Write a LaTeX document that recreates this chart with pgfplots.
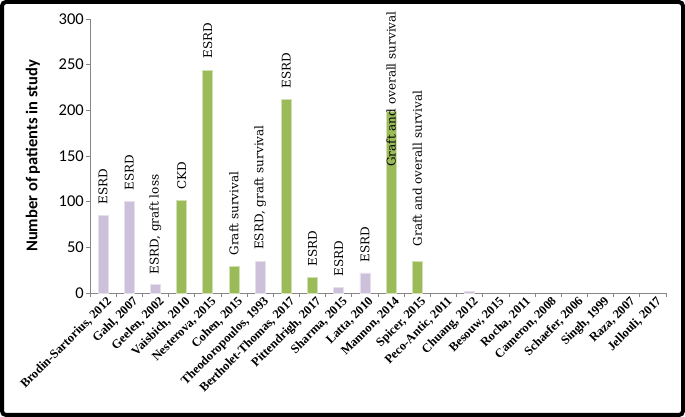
\documentclass[border=0pt]{standalone}
\usepackage{fontspec}
\usepackage{pgfplots}
\pgfplotsset{compat=1.18}
\setmainfont{DejaVu Serif}
\newfontfamily\carlito{Carlito}
\newfontfamily\libserif{Liberation Serif}
\definecolor{lav}{RGB}{204,192,218}
\definecolor{grn}{RGB}{155,187,89}
\definecolor{axgray}{RGB}{134,134,134}
\begin{document}
\begin{tikzpicture}[x=1pt,y=1pt]
\useasboundingbox (0,0) rectangle (685,417);
\begin{axis}[
  at={(90pt,124pt)}, anchor=south west,
  scale only axis, width=576pt, height=274pt,
  xmin=-0.5, xmax=21.5, ymin=0, ymax=300,
  axis x line*=bottom, axis y line*=left,
  axis line style={axgray, line width=0.8pt},
  xtick={0,...,21},
  xticklabels={{Brodin-Sartorius, 2012},{Gahl, 2007},{Geelen, 2002},{Vaisbich, 2010},{Nesterova, 2015},{Cohen, 2015},{Theodoropoulos, 1993},{Bertholet-Thomas, 2017},{Pittendrigh, 2017},{Sharma, 2015},{Latta, 2010},{Mannon, 2014},{Spicer, 2015},{Peco-Antic, 2011},{Chuang, 2012},{Besouw, 2015},{Rocha, 2011},{Cameron, 2008},{Schaefer, 2006},{Singh, 1999},{Raza, 2007},{Jellouli, 2017}},
  minor xtick={-0.5,0.5,...,21.5},
  major x tick style={draw=none},
  minor x tick style={axgray, line width=0.8pt},
  ytick={0,50,...,300},
  y tick style={axgray, line width=0.8pt},
  tick align=outside,
  major tick length=4pt, minor tick length=4pt,
  xticklabel style={rotate=45, anchor=north east, inner sep=1pt, font=\libserif\bfseries\fontsize{12.5}{14}\selectfont, xshift=4pt},
  yticklabel style={font=\carlito\fontsize{16.5}{18}\selectfont, /pgf/number format/assume math mode=true, inner sep=2pt},
  ylabel={Number of patients in study},
  ylabel style={font=\carlito\bfseries\fontsize{16.5}{18}\selectfont, at={(axis description cs:-0.099,0.5)}, anchor=center},
  clip=false,
]
\addplot[ybar, bar width=10pt, fill=lav, draw=lav!50, line width=0.8pt] coordinates {(0,85) (1,100) (2,9) (6,35) (9,6) (10,22) (14,1.5)};
\addplot[ybar, bar width=10pt, fill=grn, draw=grn!45, line width=0.8pt] coordinates {(3,101) (4,244) (5,29) (7,212) (8,17) (11,199) (12,35)};
\begin{scope}[every node/.style={rotate=90, anchor=west, inner sep=0pt, font=\fontsize{12}{14}\selectfont}]
\node at (axis cs:0,97) {ESRD};
\node at (axis cs:1,112) {ESRD};
\node at (axis cs:2,20) {ESRD, graft loss};
\node at (axis cs:3,113) {CKD};
\node at (axis cs:4,257) {ESRD};
\node at (axis cs:5,41) {Graft survival};
\node at (axis cs:6,47) {ESRD, graft survival};
\node at (axis cs:7,224) {ESRD};
\node at (axis cs:8,29) {ESRD};
\node at (axis cs:9,18) {ESRD};
\node at (axis cs:10,33) {ESRD};
\node at (axis cs:11,138) {Graft and overall survival};
\node at (axis cs:12,51) {Graft and overall survival};
\end{scope}
\end{axis}
\draw[line width=4pt, rounded corners=4pt] (2,2) rectangle (683,415);
\end{tikzpicture}
\end{document}
